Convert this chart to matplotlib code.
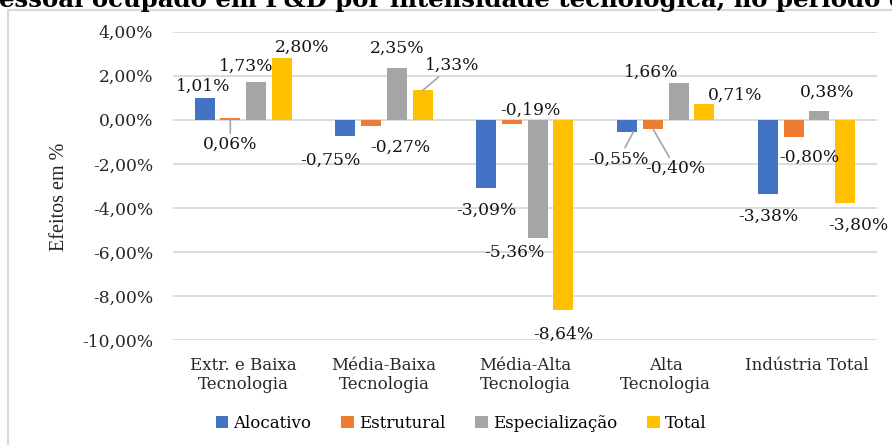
import numpy as np
import matplotlib.pyplot as plt
from matplotlib.patches import Rectangle
from matplotlib.ticker import FuncFormatter

categorias = ["Extr. e Baixa\nTecnologia", "Média-Baixa\nTecnologia",
              "Média-Alta\nTecnologia", "Alta\nTecnologia", "Indústria Total"]
series = ["Alocativo", "Estrutural", "Especialização", "Total"]
alocativo = [1.01, -0.75, -3.09, -0.55, -3.38]
estrutural = [0.06, -0.27, -0.19, -0.40, -0.80]
especializacao = [1.73, 2.35, -5.36, 1.66, 0.38]
total = [2.80, 1.33, -8.64, 0.71, -3.80]
yticks = [4, 2, 0, -2, -4, -6, -8, -10]

cores = ["#4472C4", "#ED7D31", "#A5A5A5", "#FFC000"]

# deslocamento dos rótulos (pixels, relativo à ponta da barra), movidos à mão no original
desloc = [
    [(-1.5, 11), (-14.5, -24.5), (0.5, -22), (-14.5, -27), (0.5, -22.6)],
    [(0, -26), (29, -22), (18, 14), (23, -40), (16, -20)],
    [(-10, 15), (0, 20), (-23, -15), (-27, 11), (8, 18.6)],
    [(20.5, 11), (29.5, 25), (0, -24), (30.5, 9), (13.5, -22)],
]
# rótulos com linha de chamada: (serie, categoria) -> ponto de apoio na barra
chamadas = {(1, 0): 0.0, (3, 1): 0.0, (0, 3): 0.045, (1, 3): 0.0}

plt.rcParams["font.family"] = "DejaVu Serif"

fig = plt.figure(figsize=(8.92, 4.45), dpi=100)
ax = fig.add_axes([172.7/892, 1-340/445, (877-172.7)/892, (340-31.7)/445])

valores = [alocativo, estrutural, especializacao, total]
x = np.arange(len(categorias))
passo = 0.1826
larg = 0.142
for i, (nome, vals) in enumerate(zip(series, valores)):
    pos = x + (i - 1.5)*passo
    ax.bar(pos, vals, width=larg, color=cores[i], label=nome, zorder=3)
    for j, v in enumerate(vals):
        txt = f"{v:.2f}%".replace(".", ",")
        arrow = None
        xa = pos[j]
        if (i, j) in chamadas:
            arrow = dict(arrowstyle="-", color="#a6a6a6", lw=1.2, shrinkA=0, shrinkB=0)
            xa = pos[j] + chamadas[(i, j)]
        ax.annotate(txt, xy=(xa, v), xytext=desloc[i][j],
                    textcoords="offset pixels", ha="center", va="center",
                    fontsize=12.3, color="#141414", arrowprops=arrow, zorder=4)

ax.set_xlim(-0.5, len(categorias) - 0.5)
ax.set_ylim(-10, 4)
ax.set_yticks(yticks)
ax.yaxis.set_major_formatter(FuncFormatter(lambda v, p: f"{v:.2f}%".replace(".", ",")))
ax.set_xticks(x)
ax.set_xticklabels(categorias, fontsize=12, color="#262626", linespacing=1.15)
ax.tick_params(axis="y", length=0, pad=14, labelsize=12.3, labelcolor="#262626")
ax.tick_params(axis="x", length=0, pad=12)
ax.grid(axis="y", color="#d9d9d9", lw=1.3, zorder=0)
for s in ax.spines.values():
    s.set_visible(False)

fig.text(59/892, 1-197/445, "Efeitos em %", rotation=90, ha="center", va="center",
         fontsize=14.5, family="Liberation Serif", color="#262626")

fig.legend(loc="center", bbox_to_anchor=(461/892, 1-423/445), ncol=4, frameon=False,
           fontsize=12, handlelength=0.75, handleheight=0.75, handletextpad=0.3,
           columnspacing=1.8)

# borda do gráfico e título cortado
fig.patches.append(Rectangle((8/892, -0.1), 1.2, 1-9.5/445+0.1, transform=fig.transFigure,
                             fill=False, edgecolor="#d9d9d9", lw=1.5))
fig.text(-18/892, 1-6.5/445, "pessoal ocupado em P&D por intensidade tecnológica, no período de",
         ha="left", va="baseline", fontsize=17.6, fontweight="bold")

fig.savefig("out.png", dpi=100)
